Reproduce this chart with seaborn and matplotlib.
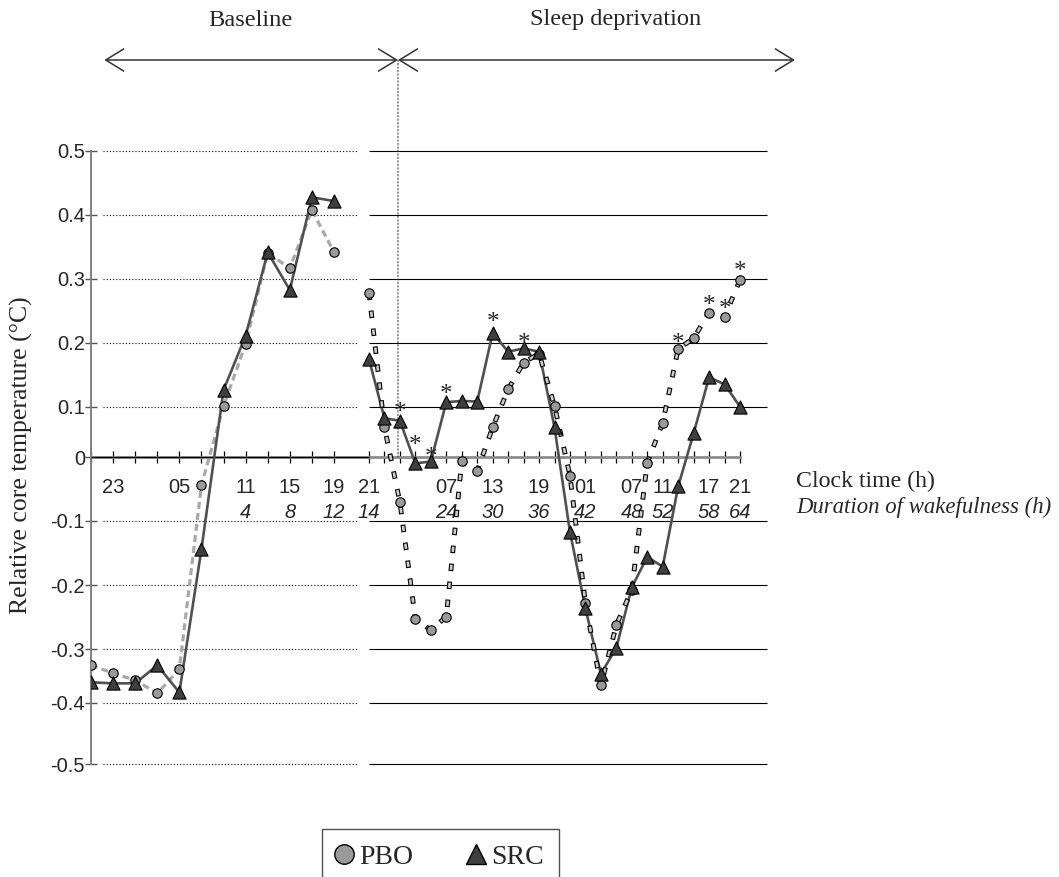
import numpy as np
import pandas as pd
import seaborn as sns
import matplotlib.pyplot as plt
from matplotlib import transforms
from matplotlib.lines import Line2D

# --- data: time in hours counted from 21:00 on the baseline evening ---
base_t = list(range(0, 24, 2))      # 21h .. 19h (baseline day)
sd_t = list(range(24, 74, 2))       # 21h .. 21h (sleep deprivation)

pbo_base = [-0.330, -0.345, -0.358, -0.383, -0.337, -0.044, 0.101, 0.198, 0.340, 0.316, 0.407, 0.341]
src_base = [-0.362, -0.364, -0.364, -0.330, -0.381, -0.144, 0.126, 0.211, 0.341, 0.282, 0.427, 0.421]

pbo_sd = [0.278, 0.059, -0.071, -0.253, -0.270, -0.249, -0.007, -0.022, 0.059, 0.127, 0.169, 0.183, 0.101,
          -0.029, -0.228, -0.368, -0.262, -0.207, -0.009, 0.068, 0.190, 0.207, 0.247, 0.240, 0.298]
src_sd = [0.174, 0.077, 0.072, -0.010, -0.007, 0.107, 0.109, 0.108, 0.215, 0.186, 0.191, 0.186, 0.059,
          -0.117, -0.236, -0.346, -0.298, -0.203, -0.156, -0.171, -0.046, 0.047, 0.146, 0.135, 0.100]

# significant time points (t) and how far above the marker the star sits (px)
star_src_t = [28, 30, 32, 34, 40, 44]
star_src_rise = [15, 24, 10, 14, 17, 11]
star_pbo_t = [64, 68, 70, 72]
star_pbo_rise = [12, 14, 14, 15]

clock_pos = [2, 8, 14, 18, 22, 24, 34, 40, 46, 52, 58, 62, 68, 72]
clock_txt = ['23', '05', '11', '15', '19', '21', '07', '13', '19', '01', '07', '11', '17', '21']
wake_pos = [14, 18, 22, 24, 34, 40, 46, 52, 58, 62, 68, 72]
wake_txt = ['4', '8', '12', '14', '24', '30', '36', '42', '48', '52', '58', '64']

y_ticks = [-0.5, -0.4, -0.3, -0.2, -0.1, 0.0, 0.1, 0.2, 0.3, 0.4, 0.5]
sd_start = 27.75   # start of the sleep deprivation period

rows = []
for phase, ts, pbo, src in [("baseline", base_t, pbo_base, src_base), ("sd", sd_t, pbo_sd, src_sd)]:
    for t, p, s in zip(ts, pbo, src):
        rows.append((phase, t, "PBO", p))
        rows.append((phase, t, "SRC", s))
df = pd.DataFrame(rows, columns=["phase", "t", "group", "temp"])

# --- broken / uneven axes of the original figure, as piecewise-linear scales ---
T_KNOTS = np.array([0.0, 22.0, 24.0, 72.0])
T_PIX = np.array([91.0, 334.0, 369.0, 740.0])
Y_KNOTS = np.array(y_ticks)
Y_PIX = -np.array([764, 702.5, 649.3, 585.3, 520.9, 457, 406.7, 342.7, 278.5, 214.5, 150.7])


def piecewise(v, src, dst):
    v = np.asarray(v, dtype=float)
    out = np.interp(v, src, dst)
    lo = (dst[1] - dst[0]) / (src[1] - src[0])
    hi = (dst[-1] - dst[-2]) / (src[-1] - src[-2])
    out = np.where(v < src[0], dst[0] + (v - src[0]) * lo, out)
    out = np.where(v > src[-1], dst[-1] + (v - src[-1]) * hi, out)
    return out


fx = (lambda v: piecewise(v, T_KNOTS, T_PIX), lambda p: piecewise(p, T_PIX, T_KNOTS))
fy = (lambda v: piecewise(v, Y_KNOTS, Y_PIX), lambda p: piecewise(p, Y_PIX, Y_KNOTS))

# --- styling ---
sns.set_style("white")
plt.rcParams["font.family"] = ["Liberation Sans", "DejaVu Sans"]
plt.rcParams["lines.scale_dashes"] = False
SERIF = "Liberation Serif"

W, H = 1059, 877
fig = plt.figure(figsize=(W / 100, H / 100), dpi=100)
ax = fig.add_axes([91 / W, 1 - 764 / H, (767 - 91) / W, (764 - 150.7) / H])
ax.set_xscale("function", functions=fx)
ax.set_yscale("function", functions=fy)
x_end = float(fx[1](767))
ax.set_xlim(0, x_end)
ax.set_ylim(-0.5, 0.5)

# gridlines: dotted on the baseline panel, solid on the deprivation panel
grid_vals = [v for v in y_ticks if v != 0]
ax.hlines(grid_vals, 1.1, 23.3, colors="black", linestyles=(0, (0.8, 1.5)), lw=0.8,
          zorder=1, clip_on=False)
ax.hlines(grid_vals, 24, x_end, colors="black", lw=0.8, zorder=1, clip_on=False)

# --- series ---
src_df = df[df.group == "SRC"]
pbo_b = df[(df.group == "PBO") & (df.phase == "baseline")]
pbo_s = df[(df.group == "PBO") & (df.phase == "sd")]

sns.lineplot(data=pbo_b, x="t", y="temp", color="#a9a9a9", lw=2.3,
             linestyle=(0, (5, 3)), ax=ax, zorder=2)
sns.lineplot(data=src_df, x="t", y="temp", units="phase", estimator=None,
             color="#505050", lw=1.9, ax=ax, zorder=3)
sns.lineplot(data=pbo_s, x="t", y="temp", color="black", lw=3.5,
             linestyle=(0, (5.4, 7.6)), ax=ax, zorder=4)
sns.lineplot(data=pbo_s, x="t", y="temp", color="#cccccc", lw=1.9,
             linestyle=(12.2, (3.8, 9.2)), ax=ax, zorder=4.1)
sns.scatterplot(data=df[df.group == "PBO"], x="t", y="temp", marker="o", s=46,
                color="#9a9a9a", edgecolor="black", linewidth=0.8, ax=ax, zorder=5)
sns.scatterplot(data=src_df, x="t", y="temp", marker="^", s=90,
                color="#3f3f3f", edgecolor="black", linewidth=0.8, ax=ax, zorder=6)

# significance stars
for grp, ts, rises in [("SRC", star_src_t, star_src_rise), ("PBO", star_pbo_t, star_pbo_rise)]:
    sub = df[df.group == grp].set_index("t")
    for t, r in zip(ts, rises):
        ax.annotate("*", xy=(t, sub.loc[t, "temp"]), xytext=(0, r - 13), textcoords="offset pixels",
                    ha="center", va="baseline", fontsize=18, family=SERIF, zorder=7)

# --- axes ---
for s in ["top", "right"]:
    ax.spines[s].set_visible(False)
ax.spines["left"].set_color("#808080")
ax.spines["left"].set_linewidth(1.4)
ax.spines["bottom"].set_position(("data", 0))
ax.spines["bottom"].set_bounds(0, 72)
ax.spines["bottom"].set_color("#8c8c8c")
ax.spines["bottom"].set_linewidth(2)
ax.hlines(0, 0, 24, colors="black", lw=0.9, zorder=2.7)

ax.set_yticks(y_ticks, labels=[f"{v:g}" for v in y_ticks])
ax.tick_params(axis="y", left=True, direction="inout", length=8, width=1, color="#555555",
               pad=0.4, labelsize=14.5)

ax.xaxis.remove_overlapping_locs = False
all_ticks = list(range(0, 74, 2))
lab = dict(zip(clock_pos, clock_txt))
ax.set_xticks(all_ticks, labels=[lab.get(t, "") for t in all_ticks])
ax.set_xticks(wake_pos, labels=wake_txt, minor=True)
ax.tick_params(axis="x", which="major", bottom=True, direction="inout", length=8.5, width=0.9,
               color="black", pad=11, labelsize=14.5)
ax.tick_params(axis="x", which="minor", bottom=True, direction="inout", length=0, pad=32.9,
               labelsize=14.5)
for t in ax.get_xticklabels(minor=True):
    t.set_fontstyle("italic")
ax.set_xlabel("")
ax.set_ylabel("")

# --- period arrows and divider ---
blend = transforms.blended_transform_factory(ax.transData, ax.transAxes)
arrow_y = (764 - 60) / (764 - 150.7)
ax.annotate("", xy=(sd_start, 0), xycoords="data", xytext=(sd_start, arrow_y), textcoords=blend,
            arrowprops=dict(arrowstyle="-", linestyle=(0, (1, 1.5)), lw=0.8, color="#444444",
                            shrinkA=0, shrinkB=0), annotation_clip=False)
for a, b in [(1.2, sd_start), (sd_start, 79.1)]:
    ax.annotate("", xy=(a, arrow_y), xytext=(b, arrow_y), xycoords=blend, textcoords=blend,
                arrowprops=dict(arrowstyle="<->,head_length=1.3,head_width=0.8", mutation_scale=10,
                                lw=1.1, color="#333333", shrinkA=0, shrinkB=0),
                annotation_clip=False)

fig.text(250 / W, 1 - 20 / H, "Baseline", ha="center", va="center", family=SERIF, fontsize=17.6)
fig.text(616 / W, 1 - 20 / H, "Sleep deprivation", ha="center", va="center", family=SERIF, fontsize=17.6)
fig.text(796 / W, 1 - 487 / H, "Clock time (h)", ha="left", va="baseline", family=SERIF, fontsize=17.2)
fig.text(796 / W, 1 - 513 / H, "Duration of wakefulness (h)", ha="left", va="baseline",
         family=SERIF, fontsize=16.4, style="italic")
fig.text(21 / W, 1 - 455 / H, "Relative core temperature (\u00b0C)", ha="center", va="center",
         rotation=90, family=SERIF, fontsize=18.5)

# --- legend ---
handles = [Line2D([], [], ls="none", marker="o", ms=14, mfc="#9a9a9a", mec="black", mew=1),
           Line2D([], [], ls="none", marker="^", ms=15, mfc="#3f3f3f", mec="black", mew=1)]
leg = fig.legend(handles, ["PBO", "SRC"], loc="upper left", bbox_to_anchor=(321.7 / W, 1 - 829.3 / H),
                 ncol=2, frameon=True, fancybox=False, edgecolor="#505050", framealpha=1,
                 borderpad=0.55, handlelength=0.5, handletextpad=0.3, columnspacing=2.0,
                 borderaxespad=0, prop={"family": SERIF, "size": 20})
leg.get_frame().set_linewidth(1)

fig.savefig("out.png", dpi=100)
plt.close(fig)
